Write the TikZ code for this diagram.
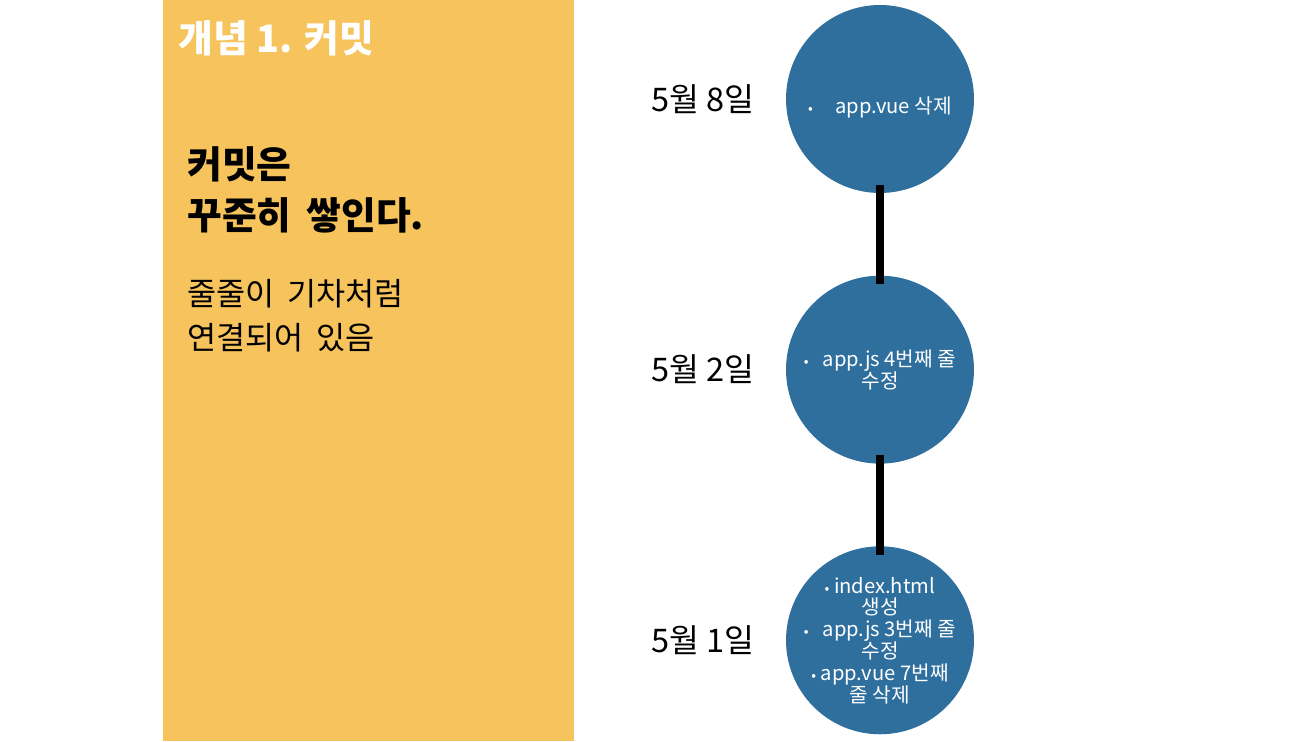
\documentclass[tikz,border=0pt]{standalone}
\usepackage{fontspec}
\setmainfont{Noto Sans CJK KR}
\usepackage{xcolor}
\usetikzlibrary{positioning}
\definecolor{panel}{HTML}{F6C35C}
\definecolor{commitblue}{HTML}{2E6F9E}
\newcommand{\blt}{{\fontsize{8}{8}\selectfont •}}
\newcommand{\wsp}{\hspace{0.4em}}

\begin{document}
\begin{tikzpicture}[
  x=0.02cm, y=0.02cm,
  node distance=1.64cm and 0.62cm,
  commit/.style={circle, fill=commitblue, minimum size=3.76cm,
    inner sep=-4pt, text=white, align=center,
    font=\fontsize{11.5}{12.4}\selectfont},
  date/.style={inner sep=0pt, font=\fontsize{18.5}{22}\selectfont},
  txt/.style={anchor=west, inner sep=0pt, align=left},
  link/.style={line width=4.5pt, shorten <=-5pt, shorten >=-5pt}
]
\useasboundingbox (0,0) rectangle (1316,741);
\fill[panel] (163,0) rectangle (574,741);

\node[txt, text=white, font=\bfseries\fontsize{21.5}{25}\selectfont]
  (title) at (178,703) {개념 1. 커밋};
\node[txt, font=\bfseries\fontsize{21.5}{29}\selectfont]
  (head) at (187,551) {커밋은\\꾸준히\wsp 쌓인다.};
\node[txt, font=\fontsize{18}{25}\selectfont]
  (body) at (187,425) {줄줄이\wsp 기차처럼\\연결되어\wsp 있음};

\node[commit] (c8) at (880,642)
  {\raisebox{-5pt}[\height][\depth]{\blt\hspace{1.1em}app.vue 삭제}};
\node[commit, below=of c8] (c2)
  {\blt\hspace{0.7em}app.js 4번째 줄\\수정};
\node[commit, below=of c2] (c1)
  {\blt\ index.html\\생성\\\blt\hspace{0.7em}app.js 3번째 줄\\수정\\
   \blt\ app.vue 7번째\\줄 삭제};

\node[date, left=of c8] (d8) {5월 8일};
\node[date, left=of c2] (d2) {5월 2일};
\node[date, left=of c1] (d1) {5월 1일};

\draw[link] (c8) -- (c2);
\draw[link] (c2) -- (c1);

\end{tikzpicture}
\end{document}
